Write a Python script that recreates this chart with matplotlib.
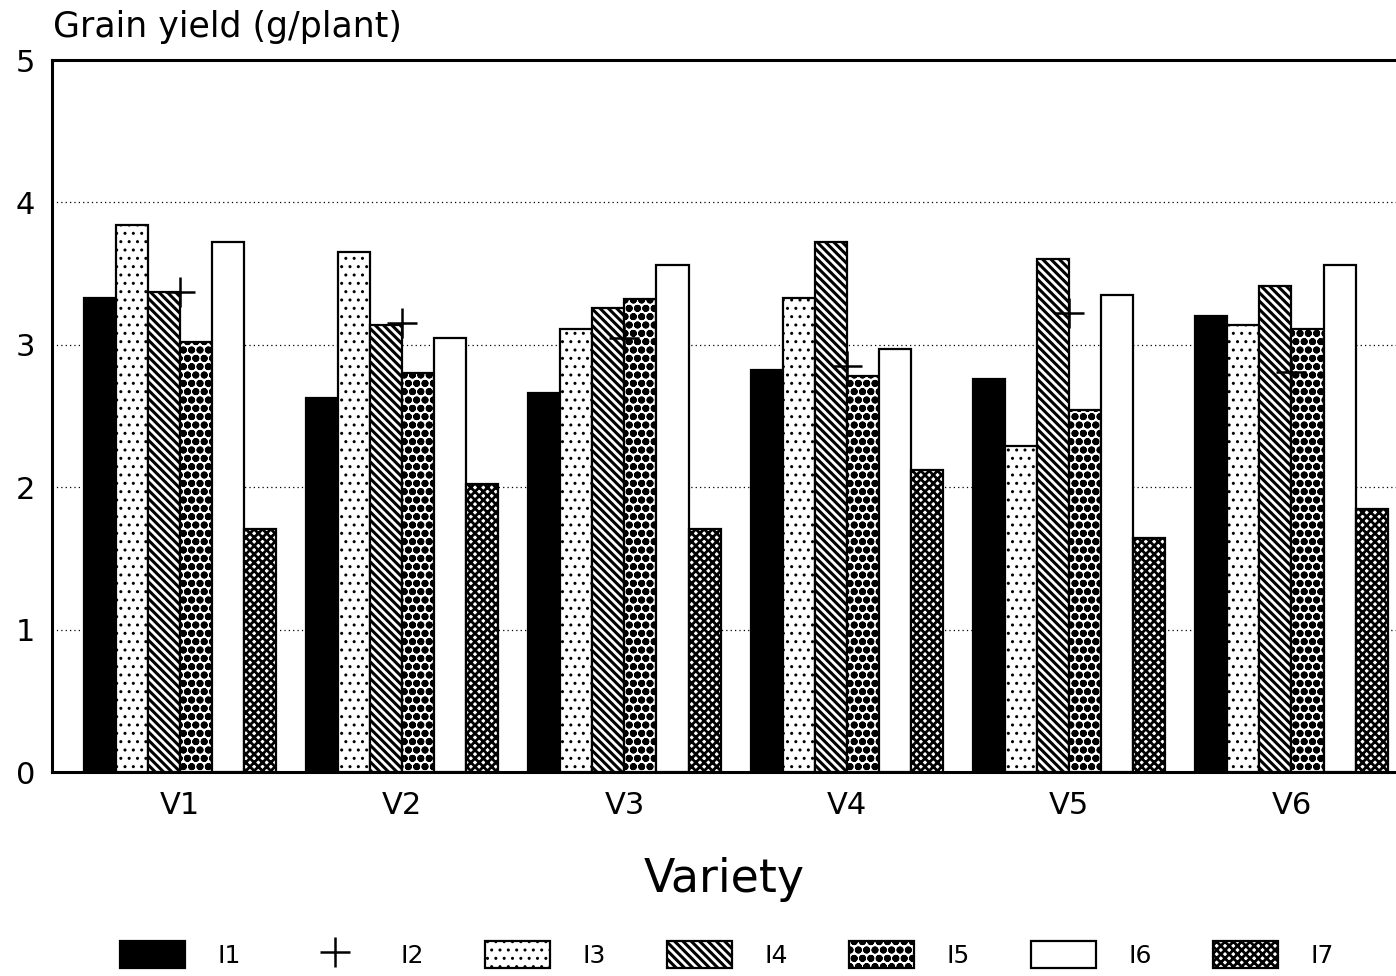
import numpy as np
import matplotlib
matplotlib.use("Agg")
import matplotlib.pyplot as plt
from matplotlib.patches import Patch
from matplotlib.lines import Line2D

varieties = ["V1", "V2", "V3", "V4", "V5", "V6"]
i1 = [3.33, 2.63, 2.66, 2.82, 2.76, 3.20]
i2 = [3.37, 3.15, 3.05, 2.85, 3.22, 2.81]
i3 = [3.84, 3.65, 3.11, 3.33, 2.29, 3.14]
i4 = [3.37, 3.14, 3.26, 3.72, 3.60, 3.41]
i5 = [3.02, 2.80, 3.32, 2.78, 2.54, 3.11]
i6 = [3.72, 3.05, 3.56, 2.97, 3.35, 3.56]
i7 = [1.71, 2.02, 1.71, 2.12, 1.64, 1.85]

plt.rcParams.update({'font.family': 'DejaVu Sans'})

# (facecolor, hatch, hatch linewidth)
styles = [
    ('black', None, 1.0),
    ('white', '..', 1.0),
    ('white', '\\\\\\\\', 2.2),
    ('white', 'oo', 2.6),
    ('white', None, 1.0),
    ('white', 'xxxx', 2.0),
]

fig = plt.figure(figsize=(13.96, 9.76), dpi=100)
ax = fig.add_axes([0.0372, 0.209, 0.9628, 0.7295])

x = np.arange(len(varieties))
w = 0.144
offsets = (np.arange(6) - 2.5) * w
for vals, (fc, hatch, hlw), off in zip([i1, i3, i4, i5, i6, i7], styles, offsets):
    bars = ax.bar(x + off, vals, width=w, facecolor=fc, hatch=hatch,
                  edgecolor='black', linewidth=1.6, zorder=3)
    for b in bars:
        b.set_hatch_linewidth(hlw)

ax.plot(x, i2, linestyle='none', marker='+', markersize=22,
        markeredgewidth=1.8, color='black', zorder=4)

ax.set_ylim(0, 5)
ax.set_xlim(-0.575, 5.47)
ax.set_yticks([0, 1, 2, 3, 4, 5])
ax.set_xticks(x)
ax.set_xticklabels(varieties)
ax.tick_params(axis='both', length=0, labelsize=22)
ax.tick_params(axis='y', pad=12)
ax.tick_params(axis='x', pad=14)
for y in [1, 2, 3, 4]:
    ax.axhline(y, color='black', linewidth=0.9, linestyle=(0, (1, 2.5)), zorder=1)
for s in ['left', 'top', 'bottom']:
    ax.spines[s].set_linewidth(2.2)
ax.spines['right'].set_visible(False)

ax.set_xlabel("Variety", fontsize=33, labelpad=26)
fig.text(0.038, 0.972, "Grain yield (g/plant)", fontsize=25, ha='left', va='center')

handles = [Patch(facecolor=fc, edgecolor='black', hatch=h, linewidth=1.6)
           for fc, h, lw in styles]
handles.insert(1, Line2D([], [], linestyle='none', marker='+', markersize=22,
                         markeredgewidth=1.8, color='black'))
labels = ["I1", "I2", "I3", "I4", "I5", "I6", "I7"]
leg = fig.legend(handles, labels, loc='center', bbox_to_anchor=(0.521, 0.022),
                 ncol=7, frameon=False, fontsize=18, handlelength=2.6,
                 handleheight=1.3, handletextpad=1.3, columnspacing=2.45)
for p, (fc, h, lw) in zip(leg.get_patches(), styles):
    p.set_hatch_linewidth(lw)

fig.savefig("out.png", dpi=100)
